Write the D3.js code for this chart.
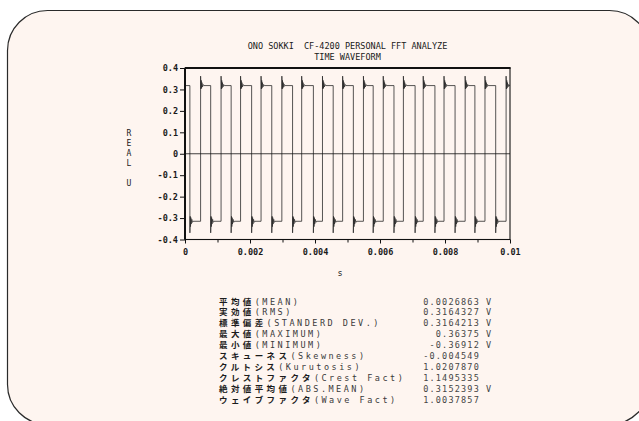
<!DOCTYPE html>
<html lang="ja">
  <head>
    <meta charset="utf-8">
    <title>ONO SOKKI CF-4200 Time Waveform</title>
    <style>
      body { margin: 0; background: #ffffff; }
      .mono { font-family: "DejaVu Sans Mono", "Liberation Mono", monospace; }
      .jp { font-family: "Noto Sans CJK JP", sans-serif; }
      text { white-space: pre; }
    </style>
    <script src="https://cdn.jsdelivr.net/npm/d3@7/dist/d3.min.js"></script>
  </head>
  <body>
    <div id="chart"></div>
    <script>
      // ---------------- data ----------------
      var titleLines = ["ONO SOKKI  CF-4200 PERSONAL FFT ANALYZE", "TIME WAVEFORM"];
      var yLabel = "REAL U";
      var xLabel = "s";

      var xTicks = [0, 0.002, 0.004, 0.006, 0.008, 0.01];
      var xMinorTicks = [0.001, 0.003, 0.005, 0.007, 0.009];
      var yTicks = [0.4, 0.3, 0.2, 0.1, 0, -0.1, -0.2, -0.3, -0.4];

      // edge times of the square wave (s)
      var fallTimes = [0.00015, 0.00079, 0.00142, 0.00205, 0.00267, 0.00331, 0.00395, 0.00456,
                       0.00518, 0.00579, 0.00643, 0.00708, 0.00769, 0.00831, 0.00892, 0.00956];
      var riseTimes = [0.00048, 0.00111, 0.00171, 0.00234, 0.00298, 0.00359, 0.00423, 0.00485,
                       0.00549, 0.00610, 0.00672, 0.00733, 0.00797, 0.00862, 0.00923, 0.00988];
      var highLevel = 0.318;
      var lowLevel = -0.315;
      // ringing just after an edge: [time after edge (s), value (V)]
      var riseRinging = [[0, 0.362], [0.00001, 0.302], [0.00002, 0.342], [0.00003, 0.306], [0.00004, 0.332],
                         [0.00006, 0.312], [0.00008, 0.323], [0.0001, 0.318]];
      var fallRinging = [[0, -0.369], [0.00001, -0.292], [0.00002, -0.34], [0.00003, -0.298], [0.00004, -0.328],
                         [0.00006, -0.306], [0.00008, -0.32], [0.0001, -0.315]];

      var statNamesJp = ["平均値", "実効値", "標準偏差", "最大値", "最小値", "スキューネス",
                         "クルトシス", "クレストファクタ", "絶対値平均値", "ウェイブファクタ"];
      var statNamesEn = ["(MEAN)", "(RMS)", "(STANDERD DEV.)", "(MAXIMUM)", "(MINIMUM)", "(Skewness)",
                         "(Kurutosis)", "(Crest Fact)", "(ABS.MEAN)", "(Wave Fact)"];
      var statValues = ["0.0026863", "0.3164327", "0.3164213", "0.36375", "-0.36912", "-0.004549",
                        "1.0207870", "1.1495335", "0.3152393", "1.0037857"];
      var statUnits = ["V", "V", "V", "V", "V", "", "", "", "V", ""];

      //-------------------------SETTING SVG-------------------------|
      var width = 639, height = 421;
      var svg = d3.select("#chart").append("svg")
                  .attr("width", width)
                  .attr("height", height);

      // rounded card (runs off the right and bottom edges)
      svg.append("rect")
         .attr("x", 7.5).attr("y", 10.5)
         .attr("width", 642).attr("height", 414)
         .attr("rx", 40).attr("ry", 40)
         .attr("fill", "#fef5f0")
         .attr("stroke", "#2a2a2a")
         .attr("stroke-width", 1.2);

      var x = d3.scaleLinear().domain([0, 0.01]).range([185, 510]);
      var y = d3.scaleLinear().domain([-0.4, 0.4]).range([239.5, 68]);

      // titles
      svg.selectAll("text.title")
         .data(titleLines)
         .enter().append("text")
         .attr("class", "title mono")
         .attr("x", 347.5)
         .attr("y", function(d, i) { return 48.5 + i * 11; })
         .attr("text-anchor", "middle")
         .attr("font-size", "8.5px")
         .attr("fill", "#1a1a1a")
         .text(function(d) { return d; });

      // ----- waveform -----
      var events = [];
      fallTimes.forEach(function(t) { events.push({t: t, shape: fallRinging, from: highLevel, to: lowLevel}); });
      riseTimes.forEach(function(t) { events.push({t: t, shape: riseRinging, from: lowLevel, to: highLevel}); });
      events.sort(function(a, b) { return a.t - b.t; });

      var pts = [[0, highLevel]];
      var level = highLevel;
      events.forEach(function(e) {
        pts.push([e.t, e.from]);
        e.shape.forEach(function(p) { pts.push([e.t + p[0], p[1]]); });
        level = e.to;
      });
      pts.push([0.01, level]);

      var line = d3.line()
                   .x(function(d) { return x(d[0]); })
                   .y(function(d) { return y(d[1]); });

      svg.append("path")
         .datum(pts)
         .attr("d", line)
         .attr("fill", "none")
         .attr("stroke", "#2b2b2b")
         .attr("stroke-width", 0.8);

      // zero line
      svg.append("line")
         .attr("x1", x(0)).attr("x2", x(0.01))
         .attr("y1", y(0)).attr("y2", y(0))
         .attr("stroke", "#111").attr("stroke-width", 0.8);

      // frame
      svg.append("rect")
         .attr("x", x(0)).attr("y", y(0.4))
         .attr("width", x(0.01) - x(0)).attr("height", y(-0.4) - y(0.4))
         .attr("fill", "none").attr("stroke", "#111").attr("stroke-width", 1.1);
      svg.append("line")
         .attr("x1", x(0)).attr("x2", x(0.01) + 0.5)
         .attr("y1", y(0.4)).attr("y2", y(0.4))
         .attr("stroke", "#111").attr("stroke-width", 2);
      svg.append("line")
         .attr("x1", x(0)).attr("x2", x(0))
         .attr("y1", y(0.4)).attr("y2", y(-0.4))
         .attr("stroke", "#111").attr("stroke-width", 2);

      // ----- axes -----
      var yAxis = d3.axisLeft(y).tickValues(yTicks).tickSize(5).tickPadding(2)
                    .tickFormat(function(d) { return String(d); });
      var gy = svg.append("g").attr("transform", "translate(" + x(0) + ",0)").call(yAxis);

      var xAxis = d3.axisBottom(x).tickValues(xTicks).tickSize(4).tickPadding(5)
                    .tickFormat(function(d) { return String(d); });
      var gx = svg.append("g").attr("transform", "translate(0," + y(-0.4) + ")").call(xAxis);

      var xMinor = d3.axisBottom(x).tickValues(xMinorTicks).tickSize(3).tickFormat("");
      var gxm = svg.append("g").attr("transform", "translate(0," + y(-0.4) + ")").call(xMinor);

      [gy, gx, gxm].forEach(function(g) {
        g.select(".domain").remove();
        g.selectAll(".tick line").attr("stroke", "#111").attr("stroke-width", 1);
        g.selectAll(".tick text")
         .attr("class", "mono")
         .attr("font-size", "8.5px")
         .attr("font-weight", "bold")
         .attr("fill", "#1a1a1a");
      });

      // axis titles
      svg.selectAll("text.ylab")
         .data(yLabel.split(""))
         .enter().append("text")
         .attr("class", "ylab mono")
         .attr("x", 129)
         .attr("y", function(d, i) { return 136 + i * 10; })
         .attr("text-anchor", "middle")
         .attr("font-size", "8px")
         .attr("fill", "#1a1a1a")
         .text(function(d) { return d; });

      svg.append("text")
         .attr("class", "mono")
         .attr("x", 340).attr("y", 276)
         .attr("text-anchor", "middle")
         .attr("font-size", "8.5px")
         .attr("fill", "#1a1a1a")
         .text(xLabel);

      // ----- statistics table -----
      var rowY = function(i) { return 304.5 + i * 10.93; };

      var labels = svg.selectAll("text.statlab")
         .data(statNamesJp)
         .enter().append("text")
         .attr("class", "statlab")
         .attr("x", 219)
         .attr("y", function(d, i) { return rowY(i); });
      labels.append("tspan")
         .attr("class", "jp")
         .attr("font-size", "8.5px")
         .attr("font-weight", "bold")
         .attr("letter-spacing", "3.4px")
         .attr("fill", "#1c1c1c")
         .text(function(d) { return d; });
      labels.append("tspan")
         .attr("class", "mono")
         .attr("font-size", "8.5px")
         .attr("letter-spacing", "2.5px")
         .attr("fill", "#3a3a3a")
         .text(function(d, i) { return statNamesEn[i]; });

      svg.selectAll("text.statval")
         .data(statValues)
         .enter().append("text")
         .attr("class", "statval mono")
         .attr("x", 480)
         .attr("y", function(d, i) { return rowY(i); })
         .attr("text-anchor", "end")
         .attr("font-size", "8.5px")
         .attr("letter-spacing", "1.2px")
         .attr("fill", "#454545")
         .text(function(d) { return d; });

      svg.selectAll("text.statunit")
         .data(statUnits)
         .enter().append("text")
         .attr("class", "statunit mono")
         .attr("x", 486)
         .attr("y", function(d, i) { return rowY(i); })
         .attr("font-size", "8.5px")
         .attr("fill", "#454545")
         .text(function(d) { return d; });
    </script>
  </body>
</html>
